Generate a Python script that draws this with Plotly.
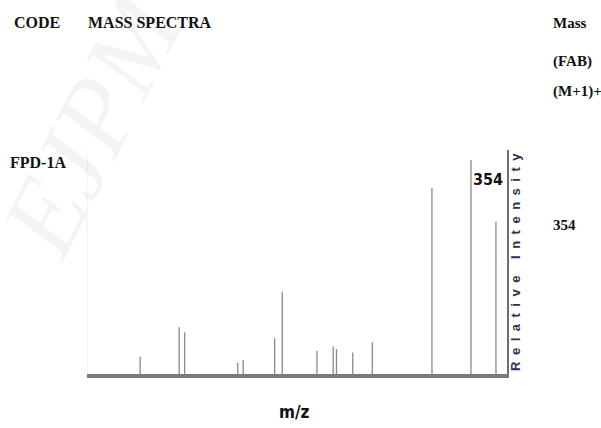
import plotly.graph_objects as go

# FAB mass spectrum of FPD-1A: m/z positions and relative intensities (%)
mz_values = [49, 85, 90, 139, 144, 173, 180, 212, 227, 230, 245, 263, 318, 354, 377]
intensities = [8.1, 21.8, 19.5, 5.3, 6.5, 16.7, 38.5, 10.7, 12.8, 11.7, 10.0, 14.8, 86.9, 100.0, 71.2]
molecular_ion = 354

# stick spectrum: each peak is a vertical segment from the baseline to its intensity
stick_x, stick_y = [], []
for m, i in zip(mz_values, intensities):
    stick_x += [m, m, None]
    stick_y += [0, i, None]

fig = go.Figure()
fig.add_trace(go.Scatter(
    x=stick_x, y=stick_y, mode="lines",
    line=dict(color="#8a8a8a", width=1.3),
    hoverinfo="skip", showlegend=False,
))

serif = dict(family="Liberation Serif, Times New Roman, serif", size=16, color="#111")
serif_r = dict(family="Liberation Serif, Times New Roman, serif", size=15, color="#111")
narrow = "DejaVu Sans Condensed, Liberation Sans Narrow, Arial Narrow, sans-serif"

ion_idx = mz_values.index(molecular_ion)
annotations = [
    # faint journal watermark running off the top-left corner
    dict(text="<i>EJPM</i>", x=0.012, y=1.112, xref="paper", yref="paper",
         xanchor="center", yanchor="middle", showarrow=False, textangle=-63,
         font=dict(family="Liberation Serif, serif", size=108, color="rgba(0,0,0,0.045)")),
    dict(text="<b>CODE</b>", x=-0.1786, y=1.567, xref="paper", yref="paper",
         xanchor="left", yanchor="middle", showarrow=False, font=serif),
    dict(text="<b>MASS SPECTRA</b>", x=-0.0024, y=1.567, xref="paper", yref="paper",
         xanchor="left", yanchor="middle", showarrow=False, font=serif),
    dict(text="<b>Mass</b>", x=1.105, y=1.567, xref="paper", yref="paper",
         xanchor="left", yanchor="middle", showarrow=False, font=serif_r),
    dict(text="<b>(FAB)</b>", x=1.105, y=1.397, xref="paper", yref="paper",
         xanchor="left", yanchor="middle", showarrow=False, font=serif_r),
    dict(text="<b>(M+1)+</b>", x=1.105, y=1.259, xref="paper", yref="paper",
         xanchor="left", yanchor="middle", showarrow=False, font=serif_r),
    dict(text="<b>FPD-1A</b>", x=-0.188, y=0.946, xref="paper", yref="paper",
         xanchor="left", yanchor="middle", showarrow=False, font=serif),
    dict(text=f"<b>{molecular_ion}</b>", x=1.105, y=0.665, xref="paper", yref="paper",
         xanchor="left", yanchor="middle", showarrow=False, font=serif_r),
    # peak label on the molecular ion
    dict(text=f"<b>{mz_values[ion_idx]}</b>", x=mz_values[ion_idx], y=91,
         xref="x", yref="y", xanchor="left", yanchor="middle", showarrow=False,
         font=dict(family=narrow, size=16, color="#111")),
    dict(text="<b>m/z</b>", x=0.493, y=-0.17, xref="paper", yref="paper",
         xanchor="center", yanchor="middle", showarrow=False,
         font=dict(family=narrow, size=17, color="#111")),
    dict(text="<b>" + "\u2002".join("Relative Intensity") + "</b>",
         x=1.02, y=0.502, xref="paper", yref="paper", textangle=-90,
         xanchor="center", yanchor="middle", showarrow=False,
         font=dict(family="Liberation Sans, Arial, sans-serif", size=13, color="#2b3550")),
]

fig.update_layout(
    width=601, height=428,
    margin=dict(l=87, r=94, t=150, b=54),
    paper_bgcolor="white", plot_bgcolor="white",
    showlegend=False,
    annotations=annotations,
    shapes=[dict(type="line", xref="paper", yref="paper", x0=0, x1=0, y0=0, y1=1,
                 line=dict(color="#f0f0f0", width=1))],
)
fig.update_xaxes(range=[0, 387.2], showgrid=False, zeroline=False,
                 showticklabels=False, ticks="",
                 showline=True, linecolor="#7a7a7a", linewidth=4)
fig.update_yaxes(range=[0, 104.7], showgrid=False, zeroline=False,
                 showticklabels=False, ticks="", side="right",
                 showline=True, linecolor="#6e6e6e", linewidth=1.5)

fig.write_html("out.html")
